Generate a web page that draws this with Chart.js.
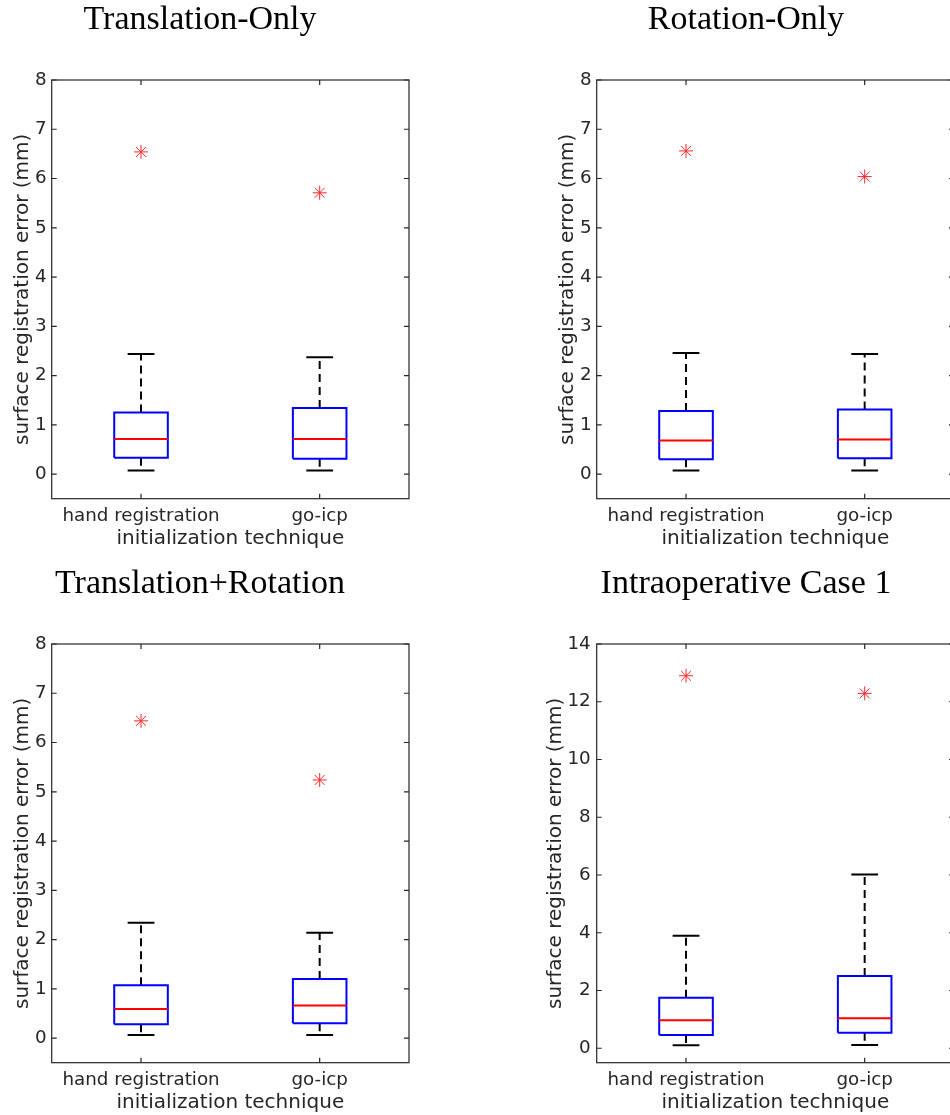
<!DOCTYPE html>
<html>
<head>
<meta charset="utf-8">
<script src="https://cdn.jsdelivr.net/npm/chart.js@4.4.1/dist/chart.umd.min.js"></script>
<style>
  html, body { margin: 0; padding: 0; background: #fff; overflow: hidden; width: 950px; height: 1115px; position: relative; }
  canvas { position: absolute; }
</style>
</head>
<body>
<canvas id="c0" width="420" height="551" style="left:-9px;top:0px"></canvas>
<canvas id="c1" width="418" height="551" style="left:538px;top:0px"></canvas>
<canvas id="c2" width="420" height="551" style="left:-9px;top:564px"></canvas>
<canvas id="c3" width="418" height="551" style="left:538px;top:564px"></canvas>
<script>
// ---------------- data ----------------
const categories = ['hand registration', 'go-icp'];
const panelTitles = ['Translation-Only', 'Rotation-Only', 'Translation+Rotation', 'Intraoperative Case 1'];
const yAxisTitle = 'surface registration error (mm)';
const xAxisTitle = 'initialization technique';

// per panel: [hand registration, go-icp]
const whiskerLow  = [[0.07, 0.07], [0.07, 0.07], [0.06, 0.06], [0.10, 0.11]];
const quartile1   = [[0.33, 0.31], [0.30, 0.32], [0.28, 0.30], [0.46, 0.54]];
const medians     = [[0.71, 0.71], [0.68, 0.70], [0.59, 0.66], [0.97, 1.04]];
const quartile3   = [[1.25, 1.34], [1.28, 1.31], [1.07, 1.20], [1.75, 2.50]];
const whiskerHigh = [[2.44, 2.37], [2.46, 2.44], [2.34, 2.14], [3.90, 6.02]];
const outliers    = [[6.54, 5.71], [6.56, 6.04], [6.44, 5.24], [12.90, 12.29]];

const yTicksSmall = [0, 1, 2, 3, 4, 5, 6, 7, 8];
const yTicksLarge = [0, 2, 4, 6, 8, 10, 12, 14];
const panelYTicks = [yTicksSmall, yTicksSmall, yTicksSmall, yTicksLarge];

// ---------------- style / layout ----------------
const AXIS_COLOR = '#262626';
const BOX_HALF = 0.15;
const CAP_HALF = 0.075;
const TICK_LEN = 5;
const Y_MIN = -0.5;
const panelLayout = [
  { yAxisWidth: 60.7, yTitlePad: 19.7, tickPad: 5 },
  { yAxisWidth: 58.7, yTitlePad: 17.7, tickPad: 5 },
  { yAxisWidth: 60.7, yTitlePad: 19.7, tickPad: 5 },
  { yAxisWidth: 58.7, yTitlePad: 6.0, tickPad: 6 }
];

Chart.defaults.font.family = "'DejaVu Sans', sans-serif";
Chart.defaults.color = AXIS_COLOR;

const matlabFrame = {
  id: 'matlabFrame',
  afterDatasetsDraw(chart) {
    const { ctx, chartArea: a, scales: { x, y } } = chart;
    ctx.save();
    ctx.strokeStyle = AXIS_COLOR;
    ctx.lineWidth = 1.2;
    ctx.strokeRect(a.left, a.top, a.right - a.left, a.bottom - a.top);
    ctx.beginPath();
    y.ticks.forEach(t => {
      const py = y.getPixelForValue(t.value);
      ctx.moveTo(a.left, py); ctx.lineTo(a.left + TICK_LEN, py);
      ctx.moveTo(a.right, py); ctx.lineTo(a.right - TICK_LEN, py);
    });
    x.ticks.forEach(t => {
      const px = x.getPixelForValue(t.value);
      ctx.moveTo(px, a.bottom); ctx.lineTo(px, a.bottom - TICK_LEN);
      ctx.moveTo(px, a.top); ctx.lineTo(px, a.top + TICK_LEN);
    });
    ctx.stroke();
    ctx.restore();
  }
};

function gap(c) { return { x: c, y: null }; }

function buildDatasets(p) {
  const box = [], med = [], whisk = [], caps = [], outs = [];
  categories.forEach((name, j) => {
    const c = j + 1;
    const lo = whiskerLow[p][j], q1 = quartile1[p][j], m = medians[p][j];
    const q3 = quartile3[p][j], hi = whiskerHigh[p][j];
    box.push({ x: c - BOX_HALF, y: q1 }, { x: c + BOX_HALF, y: q1 }, { x: c + BOX_HALF, y: q3 },
             { x: c - BOX_HALF, y: q3 }, { x: c - BOX_HALF, y: q1 }, gap(c));
    med.push({ x: c - BOX_HALF, y: m }, { x: c + BOX_HALF, y: m }, gap(c));
    whisk.push({ x: c, y: q3 }, { x: c, y: hi }, gap(c), { x: c, y: q1 }, { x: c, y: lo }, gap(c));
    caps.push({ x: c - CAP_HALF, y: hi }, { x: c + CAP_HALF, y: hi }, gap(c),
              { x: c - CAP_HALF, y: lo }, { x: c + CAP_HALF, y: lo }, gap(c));
    outs.push({ x: c, y: outliers[p][j] });
  });
  const lineBase = { showLine: true, pointRadius: 0, borderWidth: 2, spanGaps: false, fill: false, tension: 0, borderCapStyle: 'butt' };
  return [
    Object.assign({ label: 'median', data: med, borderColor: '#ff0000' }, lineBase),
    Object.assign({ label: 'box', data: box, borderColor: '#0000ff', borderJoinStyle: 'miter' }, lineBase),
    Object.assign({ label: 'caps', data: caps, borderColor: '#000000' }, lineBase),
    Object.assign({ label: 'whiskers', data: whisk, borderColor: '#000000', borderDash: [8, 5] }, lineBase),
    { label: 'outliers', data: outs, showLine: false, pointStyle: 'star', pointRadius: 7,
      borderColor: '#ff2a2a', backgroundColor: '#ff2a2a', borderWidth: 1 }
  ];
}

panelTitles.forEach((title, p) => {
  const L = panelLayout[p];
  const ticks = panelYTicks[p];
  new Chart(document.getElementById('c' + p), {
    type: 'scatter',
    data: { datasets: buildDatasets(p) },
    options: {
      responsive: false,
      animation: false,
      layout: { autoPadding: false, padding: { left: 0, right: 2, top: 0, bottom: 0 } },
      plugins: {
        legend: { display: false },
        tooltip: { enabled: false },
        title: {
          display: true,
          text: title,
          color: '#000000',
          font: { family: "'Liberation Serif', serif", size: 34, weight: 'normal' },
          padding: { top: 0, bottom: 39.2 }
        }
      },
      scales: {
        x: {
          type: 'linear',
          min: 0.5, max: 2.5,
          grid: { display: false, drawTicks: false, tickLength: 0 },
          border: { display: false },
          afterBuildTicks: s => { s.ticks = categories.map((_, j) => ({ value: j + 1 })); },
          afterFit: s => { s.height = 52.3; s.paddingLeft = 0; s.paddingRight = 0; },
          ticks: {
            padding: 7,
            font: { size: 18.3 },
            color: AXIS_COLOR,
            maxRotation: 0,
            callback: v => categories[Math.round(v) - 1]
          },
          title: {
            display: true,
            text: xAxisTitle,
            color: AXIS_COLOR,
            font: { size: 20 },
            padding: { top: 0, bottom: 0 }
          }
        },
        y: {
          type: 'linear',
          min: Y_MIN, max: ticks[ticks.length - 1],
          grid: { display: false, drawTicks: false, tickLength: 0 },
          border: { display: false },
          afterBuildTicks: s => { s.ticks = ticks.map(v => ({ value: v })); },
          afterFit: s => { s.width = L.yAxisWidth; },
          ticks: {
            padding: L.tickPad,
            font: { size: 18.3 },
            color: AXIS_COLOR,
            callback: v => String(v)
          },
          title: {
            display: true,
            text: yAxisTitle,
            color: AXIS_COLOR,
            font: { size: 20 },
            padding: { top: L.yTitlePad, bottom: 0 }
          }
        }
      }
    },
    plugins: [matlabFrame]
  });
});
</script>
</body>
</html>
